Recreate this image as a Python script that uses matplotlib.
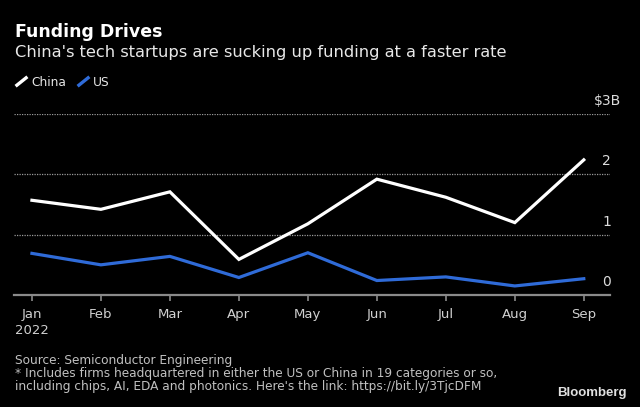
import matplotlib.pyplot as plt
from matplotlib.lines import Line2D

# Data (US$ billions)
months = ["Jan\n2022", "Feb", "Mar", "Apr", "May", "Jun", "Jul", "Aug", "Sep"]
china = [1.57, 1.42, 1.71, 0.59, 1.18, 1.92, 1.62, 1.20, 2.24]
us = [0.69, 0.50, 0.64, 0.29, 0.70, 0.24, 0.30, 0.15, 0.27]
yticks = [0, 1, 2, 3]
ylabels = ["0", "1", "2", "$3B"]

plt.rcParams['font.family'] = ["DejaVu Sans"]

bg = "black"
blue = "#2f6bd8"
H = 407

fig = plt.figure(figsize=(6.4, 4.07), dpi=100, facecolor=bg)
ax = fig.add_axes([14 / 640, 112 / H, 596 / 640, 181 / H], facecolor=bg)

x = list(range(len(months)))
ax.plot(x, us, color=blue, lw=2.3, solid_joinstyle="miter", zorder=3)
ax.plot(x, china, color="white", lw=2.3, solid_joinstyle="miter", zorder=4)

ax.set_xlim(-0.26, 8.38)
ax.set_ylim(0, 3)

# dotted gridlines
for v in yticks[1:]:
    ax.axhline(v, color="#9a9a9a", lw=0.9, ls=(0, (1, 1)), zorder=1)
ax.axhline(0, color="#8a8a8a", lw=1.6, zorder=2, clip_on=False)

for s in ax.spines.values():
    s.set_visible(False)

ax.set_xticks(x)
ax.set_xticklabels(months, color="#d0d0d0", fontsize=9.5, linespacing=1.3)
ax.tick_params(axis="x", length=4, width=1.2, color="#8a8a8a", pad=5.5)
ax.set_yticks([])

# y labels at right, sitting above gridlines
for v, t in zip(yticks, ylabels):
    ax.text(8.35 if v == 3 else 8.33, v + 0.15, t, color="#dcdcdc", fontsize=10,
            ha="center", va="baseline", clip_on=False)

# titles
fig.text(15 / 640, 1 - 37 / H, "Funding Drives", color="white", fontsize=12.5,
         fontweight="bold", va="baseline", ha="left")
fig.text(15 / 640, 1 - 57 / H,
         "China's tech startups are sucking up funding at a faster rate",
         color="#e8e8e8", fontsize=11.7, va="baseline", ha="left")

# legend with slash-shaped keys
slash = [(-1, -0.8), (1, 0.8)]
handles = [Line2D([], [], ls="none", marker=slash, markersize=8.5, mew=2.4,
                  color=c) for c in ("white", blue)]
fig.legend(handles, ["China", "US"], loc="center left",
           bbox_to_anchor=(4 / 640, 1 - 82 / H), ncol=2, frameon=False,
           fontsize=8.8, labelcolor="#e6e6e6", handlelength=1.0,
           handletextpad=0.3, columnspacing=0.9)

# footer
foot = "#c0c0c0"
fig.text(15 / 640, 1 - 364 / H, "Source: Semiconductor Engineering",
         color=foot, fontsize=8.7, va="baseline")
fig.text(15 / 640, 1 - 377 / H,
         "* Includes firms headquartered in either the US or China in 19 categories or so,",
         color=foot, fontsize=8.7, va="baseline")
fig.text(15 / 640, 1 - 390 / H,
         "including chips, AI, EDA and photonics. Here's the link: https://bit.ly/3TjcDFM",
         color=foot, fontsize=8.7, va="baseline")
fig.text(627 / 640, 1 - 396 / H, "Bloomberg", color="#e0e0e0", fontsize=9.5,
         fontweight="bold", ha="right", va="baseline", family="Liberation Sans")

fig.savefig("out.png", dpi=100, facecolor=bg)
